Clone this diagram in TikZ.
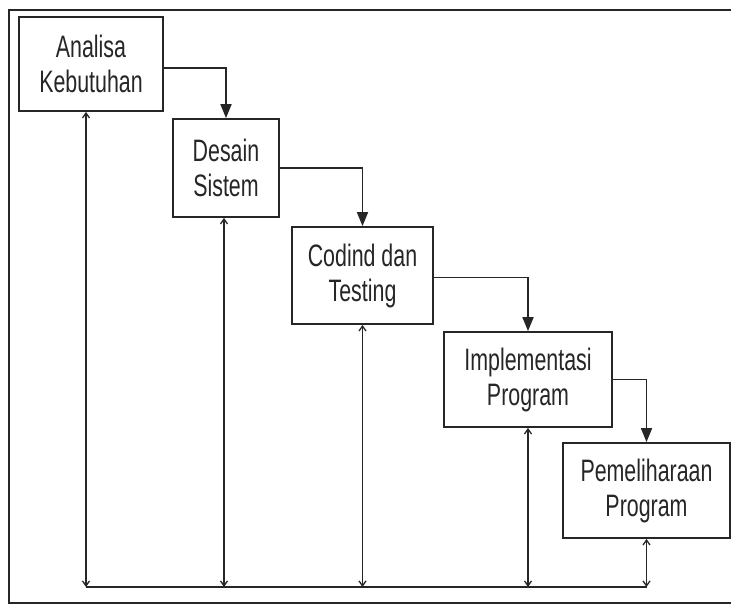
\documentclass[tikz,border=0pt]{standalone}
\usepackage{fontspec}
\setmainfont{Liberation Sans}[FakeStretch=0.69]
\usetikzlibrary{arrows.meta}
\begin{document}
\begin{tikzpicture}[x=1pt,y=-1pt,
  stage/.style={draw=black!85, line width=1.8pt, fill=white, align=center,
    inner sep=0pt, font=\fontsize{31}{35}\selectfont, text=black!85},
  flow/.style={line width=1.8pt, draw=black!85, -{Triangle[width=11pt,length=14pt]}},
  link/.style={line width=1.3pt, draw=black!85,
    {Straight Barb[length=5pt,width=7pt]}-{Straight Barb[length=5pt,width=7pt]}},
  rail/.style={line width=1.5pt, draw=black!85}]
\useasboundingbox (0,0) rectangle (731,605);
\fill[white] (0,0) rectangle (731,605);
\draw[line width=1.4pt, black!85] (734,10) -- (9,10) -- (9,603) -- (734,603);
\node[stage, minimum width=144pt, minimum height=94pt] (a) at (91,64) {Analisa\\Kebutuhan};
\node[stage, minimum width=106pt, minimum height=98pt] (b) at (226,168) {Desain\\Sistem};
\node[stage, minimum width=141pt, minimum height=97pt] (c) at (362.5,275.5) {Codind dan\\Testing};
\node[stage, minimum width=168pt, minimum height=95pt] (d) at (528,379.5) {Implementasi\\Program};
\node[stage, minimum width=167pt, minimum height=95pt] (e) at (646.5,490.5) {Pemeliharaan\\Program};
\draw[flow] ([yshift=-4pt]a.east) -| (b.north);
\draw[flow] (b.east) -| (c.north);
\draw[flow] ([yshift=-2pt]c.east) -| (d.north);
\draw[flow] (d.east) -| (e.north);
\coordinate (base) at (0,587);
\coordinate (p1) at ([xshift=-5pt]a.south |- base);
\coordinate (p2) at ([xshift=-2pt]b.south |- base);
\coordinate (p3) at (c.south |- base);
\coordinate (p4) at (d.south |- base);
\coordinate (p5) at (e.south |- base);
\draw[link] ([xshift=-5pt]a.south) -- (p1);
\draw[link] ([xshift=-2pt]b.south) -- (p2);
\draw[link] (c.south) -- (p3);
\draw[link] (d.south) -- (p4);
\draw[link] (e.south) -- (p5);
\draw[rail] (p1) -- (p5);
\end{tikzpicture}
\end{document}
